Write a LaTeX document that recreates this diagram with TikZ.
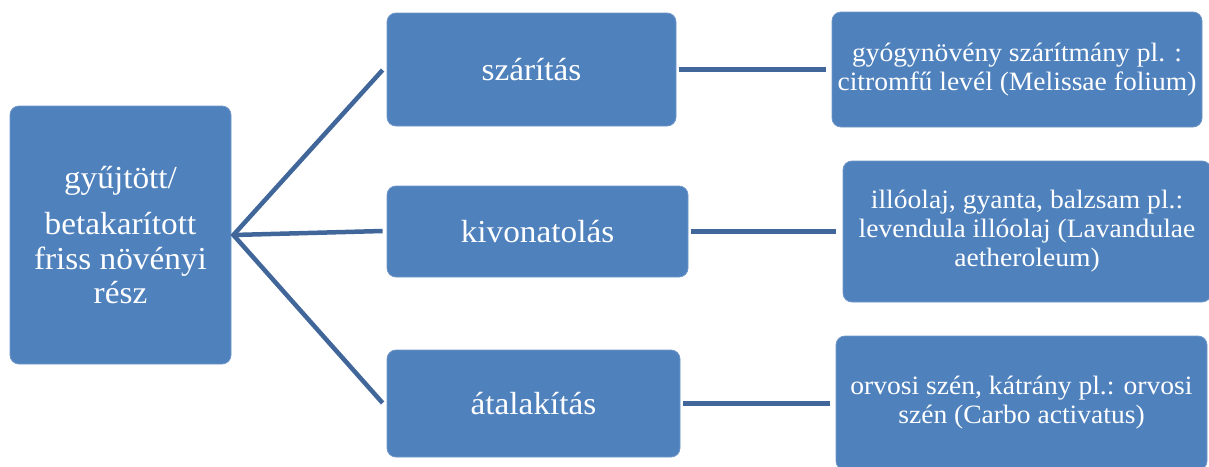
\documentclass[tikz,border=0pt]{standalone}
\usepackage{fontspec}
\setmainfont[FakeStretch=1.04]{Liberation Serif}
\definecolor{boxblue}{HTML}{4F81BD}
\definecolor{boxedge}{HTML}{6F96C8}
\definecolor{linkblue}{HTML}{41679A}
\begin{document}
\begin{tikzpicture}[x=1pt,y=-1pt,
  box/.style={fill=boxblue, draw=boxedge, line width=0.8pt, rounded corners=9pt, text=white, align=center, inner sep=0pt},
  big/.style={box, font=\fontsize{32}{34.5}\selectfont},
  small/.style={box, font=\fontsize{26.5}{29}\selectfont},
  link/.style={draw=linkblue, line width=4.5pt}]
\useasboundingbox (0,0) rectangle (1209,466);
% left
\node[big, minimum width=221pt, minimum height=258pt] (src) at (120.5,235)
  {gyűjtött/\\[12pt]betakarított\\friss növényi\\rész};
% middle
\node[big, minimum width=289pt, minimum height=113pt] (m1) at (531.5,69.5) {szárítás};
\node[big, minimum width=301pt, minimum height=91pt] (m2) at (537.5,231.5) {kivonatolás};
\node[big, minimum width=293pt, minimum height=107pt] (m3) at (533.5,403.5) {átalakítás};
% right
\node[small, minimum width=370pt, minimum height=115pt] (r1) at (1017,69.5)
  {gyógynövény szárítmány pl. :\\citromfű levél (Melissae folium)};
\node[small, minimum width=368pt, minimum height=141pt] (r2) at (1027,231.5)
  {illóolaj, gyanta, balzsam pl.:\\levendula illóolaj (Lavandulae\\aetheroleum)};
\node[small, minimum width=371pt, minimum height=134pt] (r3) at (1021.5,403)
  {orvosi szén, kátrány pl.: orvosi\\szén (Carbo activatus)};
% connector ends
\coordinate (e1) at ([xshift=-4pt]m1.west |- 0,70);
\coordinate (e2) at ([xshift=-4pt]m2.west |- 0,231);
\coordinate (e3) at ([xshift=-4pt]m3.west |- 0,403);
\draw[link] (e1) -- ([xshift=2pt]src.east) -- (e3);
\draw[link] ([xshift=2pt]src.east) -- (e2);
\draw[link] ([xshift=3pt]m1.east) -- ([xshift=-6pt]r1.west);
\draw[link] ([xshift=3pt]m2.east) -- ([xshift=-7pt]r2.west);
\draw[link] ([xshift=3pt]m3.east) -- ([xshift=-6pt]r3.west |- m3.east);
\end{tikzpicture}
\end{document}
